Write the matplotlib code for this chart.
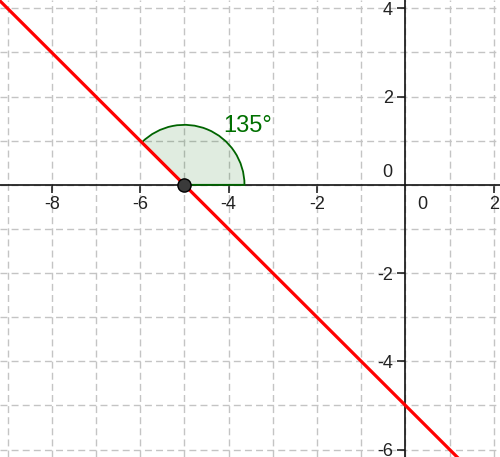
import matplotlib
matplotlib.use("Agg")
import matplotlib.pyplot as plt
from matplotlib.patches import Wedge
from matplotlib.ticker import MultipleLocator

plt.rcParams['font.family'] = ['Liberation Sans', 'DejaVu Sans']
plt.rcParams['axes.unicode_minus'] = False

# data
x_range = [-9.17, 2.14]
y_range = [-6.17, 4.19]
x_ticks = [-8, -6, -4, -2, 2]
y_ticks = [-6, -4, -2, 2, 4]
line_point = (-5, 0)
line_slope = -1
angle_deg = 135
arc_radius = 1.36
angle_label = "135°"

fig = plt.figure(figsize=(5, 4.57), dpi=100)
ax = fig.add_axes([0, 0, 1, 1])
ax.set_xlim(*x_range)
ax.set_ylim(*y_range)

# grid
ax.xaxis.set_minor_locator(MultipleLocator(1))
ax.yaxis.set_minor_locator(MultipleLocator(1))
ax.grid(which='both', color='#c4c4c4', linewidth=1.0, linestyle=(0, (5, 3)))
ax.set_axisbelow(True)
ax.tick_params(which='minor', length=0)

# spines at zero
for s in ['top', 'right']:
    ax.spines[s].set_visible(False)
ax.spines['left'].set_position(('data', 0))
ax.spines['bottom'].set_position(('data', 0))
for s in ['left', 'bottom']:
    ax.spines[s].set_linewidth(1.2)
    ax.spines[s].set_color('#111111')
    ax.spines[s].set_zorder(2)

ax.set_xticks(x_ticks)
ax.set_yticks(y_ticks)
ax.set_xticklabels([str(v) for v in x_ticks])
ax.set_yticklabels([str(v) for v in y_ticks])
ax.tick_params(which='major', direction='out', length=5.5, width=1.1,
               color='#111111', labelsize=13, labelcolor='#222222')
ax.tick_params(axis='x', pad=2.5)
ax.tick_params(axis='y', pad=3.5)

# zero labels
ax.text(0.26, -0.45, "0", fontsize=13, color='#222222', ha='left', va='center')
ax.text(-0.305, 0.28, "0", fontsize=13, color='#222222', ha='right', va='center')

# angle sector
w = Wedge(line_point, arc_radius, 0, angle_deg, facecolor=(0, 0.4, 0, 0.12),
          edgecolor='#006400', linewidth=1.3, zorder=3)
ax.add_patch(w)

# line
ax.axline(line_point, slope=line_slope, color='#ff0000', linewidth=2.3, zorder=4)

# point
ax.plot([line_point[0]], [line_point[1]], 'o', markersize=9.5,
        markerfacecolor='#3a3a3a', markeredgecolor='#000000',
        markeredgewidth=1.0, zorder=5)

ax.text(-4.13, 1.195, angle_label, fontsize=17, color='#007000',
        ha='left', va='baseline', zorder=6)

fig.savefig("out.png", dpi=100)
